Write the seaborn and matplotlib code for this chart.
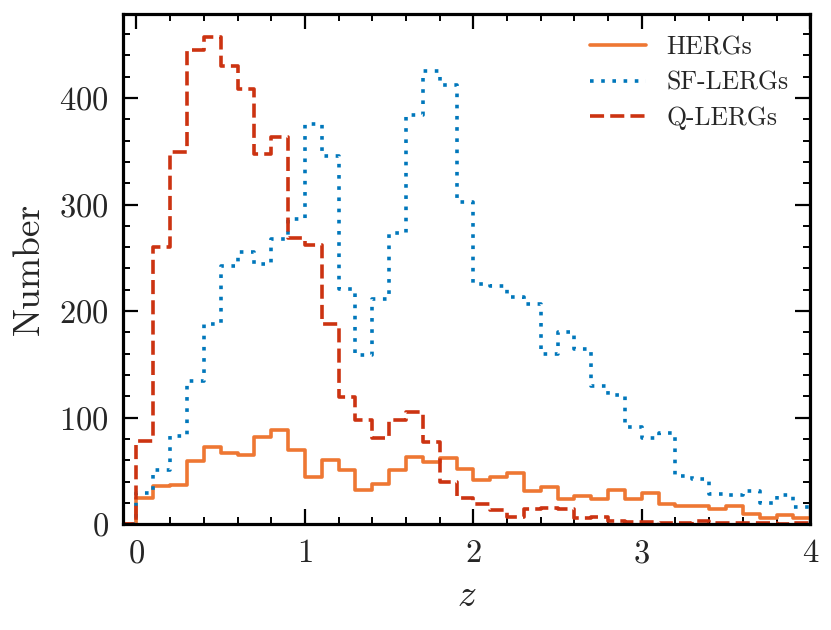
import numpy as np
import pandas as pd
import matplotlib
matplotlib.use("Agg")
import matplotlib.pyplot as plt
import seaborn as sns
from matplotlib.ticker import MultipleLocator

# ---- data (counts per z bin of width 0.1, 0 -> 4) ----
bin_edges = np.round(np.arange(0.0, 4.0001, 0.1), 2)
herg_counts = [25, 36, 37, 59, 72, 67, 65, 82, 88, 70,
               44, 60, 51, 32, 38, 51, 63, 58, 62, 52,
               41, 44, 48, 31, 35, 24, 26, 24, 32, 24,
               29, 19, 17, 17, 14, 17, 10, 6, 9, 6]
sflerg_counts = [29, 51, 83, 134, 188, 242, 255, 244, 268, 286,
                 376, 346, 221, 159, 211, 273, 384, 425, 412, 302,
                 225, 224, 213, 207, 160, 180, 164, 130, 121, 91,
                 81, 86, 45, 42, 28, 27, 31, 20, 27, 16]
qlerg_counts = [78, 260, 349, 445, 457, 430, 408, 347, 363, 269,
                262, 188, 119, 98, 81, 98, 105, 77, 40, 25,
                19, 13, 7, 14, 15, 14, 6, 7, 3, 2,
                2, 1, 1, 3, 1, 1, 1, 1, 0, 1]
labels = ["HERGs", "SF-LERGs", "Q-LERGs"]
colors = ["#EE7733", "#0077BB", "#CC3311"]

sns.set_theme(style="ticks")
plt.rcParams["font.family"] = ["cmr10", "DejaVu Serif"]
plt.rcParams["mathtext.fontset"] = "cm"
plt.rcParams["axes.formatter.use_mathtext"] = True

fig = plt.figure(figsize=(8.31, 6.30), dpi=100)
ax = fig.add_axes([0.148, 0.168, 0.827, 0.810])

# add a zero-count bin before z=0 so the step closes down to zero at the left edge
edges_ext = np.concatenate([[bin_edges[0] - 0.1], bin_edges])
centers = 0.5 * (edges_ext[:-1] + edges_ext[1:])

styles = [dict(linestyle="-", linewidth=2.6),
          dict(linestyle=(0, (1.0, 2.1)), linewidth=2.6),
          dict(linestyle=(0, (3.9, 1.7)), linewidth=2.6)]

for lab, cnt, col, st in zip(labels, [herg_counts, sflerg_counts, qlerg_counts], colors, styles):
    w = np.concatenate([[0], cnt])
    df = pd.DataFrame({"z": centers, "n": w})
    sns.histplot(data=df, x="z", weights="n", bins=list(edges_ext), element="step",
                 fill=False, color=col, label=lab, ax=ax, **st)

ax.set_xlim(-0.08, 4.0)
ax.set_ylim(0, 479)
ax.xaxis.set_major_locator(MultipleLocator(1))
ax.xaxis.set_minor_locator(MultipleLocator(0.2))
ax.yaxis.set_major_locator(MultipleLocator(100))
ax.yaxis.set_minor_locator(MultipleLocator(20))
ax.tick_params(which="both", direction="in", top=True, right=True,
               labelsize=23.5, color="black")
ax.tick_params(axis="x", which="both", pad=11)
ax.tick_params(axis="y", which="both", pad=10)
ax.tick_params(which="major", length=10.5, width=1.6)
ax.tick_params(which="minor", length=5, width=1.4)
for s in ax.spines.values():
    s.set_linewidth(2.3)
    s.set_color("black")

ax.set_xlabel(r"$z$", fontsize=27, labelpad=8)
ax.set_ylabel("Number", fontsize=27, labelpad=10)

ax.legend(loc="upper right", frameon=False, fontsize=18.5, handlelength=2.15,
          handletextpad=0.8, labelspacing=0.45, borderaxespad=0.45)

fig.savefig("out.png", dpi=100)
